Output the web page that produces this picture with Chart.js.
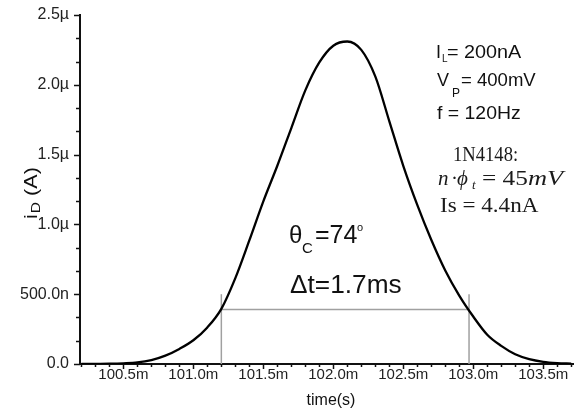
<!DOCTYPE html>
<html>
<head>
<meta charset="utf-8">
<script src="https://cdn.jsdelivr.net/npm/chart.js@4"></script>
<style>
  html, body { margin: 0; padding: 0; background: #fff; }
  canvas { display: block; }
</style>
</head>
<body>
<canvas id="diodeChart" width="574" height="412"></canvas>
<script>
// time in ms, current in µA
const timeMs = [100.2, 100.3, 100.4, 100.5, 100.6, 100.7, 100.8, 100.9, 101.0, 101.1,
                101.2, 101.3, 101.4, 101.5, 101.6, 101.7, 101.8, 101.9, 102.0, 102.1,
                102.2, 102.3, 102.4, 102.5, 102.6, 102.7, 102.8, 102.9, 103.0, 103.1,
                103.2, 103.3, 103.4, 103.5, 103.6, 103.7];
const currentUA = [0.000, 0.001, 0.002, 0.005, 0.011, 0.028, 0.060, 0.108, 0.170, 0.262,
                   0.395, 0.615, 0.885, 1.165, 1.420, 1.690, 1.960, 2.160, 2.280, 2.310,
                   2.250, 2.060, 1.740, 1.420, 1.140, 0.890, 0.670, 0.490, 0.340, 0.210,
                   0.130, 0.070, 0.035, 0.016, 0.007, 0.003];

const xTicks = [100.5, 101.0, 101.5, 102.0, 102.5, 103.0, 103.5];
const xTickLabels = ["100.5m", "101.0m", "101.5m", "102.0m", "102.5m", "103.0m", "103.5m"];
const yTicks = [0, 0.5, 1.0, 1.5, 2.0, 2.5];
const yTickLabels = ["0.0", "500.0n", "1.0µ", "1.5µ", "2.0µ", "2.5µ"];

// conduction window markers
const cutTimes = [101.2, 102.97];
const cutLevel = 0.39;
const markerTop = 0.5;

const SANS = '"Liberation Sans", Arial, sans-serif';
const SERIF = '"Liberation Serif", "Times New Roman", serif';

// draws a string, optionally stretched, returns the x where it ends
function txt(ctx, s, x, y, font, sx) {
  sx = sx || 1;
  ctx.save();
  ctx.font = font;
  const w = ctx.measureText(s).width * sx;
  ctx.translate(x, y);
  ctx.scale(sx, 1);
  ctx.fillText(s, 0, 0);
  ctx.restore();
  return x + w;
}

const extras = {
  id: "extras",
  afterDraw(chart) {
    const ctx = chart.ctx;
    const x = chart.scales.x, y = chart.scales.y, a = chart.chartArea;

    // minor / major tick marks
    ctx.save();
    ctx.strokeStyle = "#111";
    ctx.lineWidth = 1.5;
    ctx.beginPath();
    for (let k = 1002; k <= 1037; k++) {
      const px = Math.round(x.getPixelForValue(k / 10)) + 0.5;
      const len = k % 5 === 0 ? 5 : 3;
      ctx.moveTo(px, a.bottom);
      ctx.lineTo(px, a.bottom + len);
    }
    for (let k = 0; k <= 15; k++) {
      const py = Math.round(y.getPixelForValue(k * 0.5 / 3)) + 0.5;
      const len = k % 3 === 0 ? 6 : 4;
      ctx.moveTo(a.left - len, py);
      ctx.lineTo(a.left, py);
    }
    ctx.stroke();
    ctx.restore();

    ctx.save();
    ctx.fillStyle = "#111";
    ctx.textBaseline = "alphabetic";

    // axis titles
    ctx.textAlign = "center";
    txt(ctx, "time(s)", 331, 405, "16px " + SANS);
    ctx.textAlign = "left";
    ctx.save();
    ctx.translate(37, 219);
    ctx.rotate(-Math.PI / 2);
    let p = txt(ctx, "i", 0, 0, "18px " + SANS, 1.2);
    p = txt(ctx, "D", p + 1, 3, "13px " + SANS, 1.2);
    txt(ctx, " (A)", p, 0, "18px " + SANS, 1.2);
    ctx.restore();

    // circuit parameters
    txt(ctx, "I", 436, 58, "18px " + SANS);
    txt(ctx, "L", 442, 62, "10px " + SANS);
    txt(ctx, "= 200nA", 447, 58, "18px " + SANS, 1.1);
    txt(ctx, "V", 437, 86, "18px " + SANS);
    txt(ctx, "P", 452, 97, "12px " + SANS);
    txt(ctx, "= 400mV", 461, 86, "18px " + SANS, 1.03);
    txt(ctx, "f = 120Hz", 437, 119, "18px " + SANS, 1.08);

    // diode parameters
    ctx.fillStyle = "#1a1a1a";
    txt(ctx, "1N4148:", 453, 161, "20px " + SERIF, 0.93);
    txt(ctx, "n", 438, 185, "italic 21px " + SERIF);
    txt(ctx, "·", 451, 185, "21px " + SERIF);
    txt(ctx, "ϕ", 457, 185, "italic 21px " + SERIF);
    txt(ctx, "t", 472, 189, "italic 13px " + SERIF);
    p = txt(ctx, "= 45", 482, 185, "22px " + SERIF, 1.15);
    txt(ctx, "mV", p, 185, "italic 22px " + SERIF, 1.2);
    txt(ctx, "Is = 4.4nA", 440, 212, "21px " + SERIF, 1.1);

    // conduction angle
    ctx.fillStyle = "#111";
    txt(ctx, "θ", 289, 243, "24px " + SANS);
    txt(ctx, "C", 302, 253, "15px " + SANS);
    txt(ctx, "=74", 315, 243, "25px " + SANS);
    txt(ctx, "o", 357, 231, "11px " + SANS);
    txt(ctx, "Δt=1.7ms", 290, 293, "25px " + SANS, 1.05);
    ctx.restore();
  }
};

const grey = "#a0a0a0";

new Chart(document.getElementById("diodeChart"), {
  type: "line",
  data: {
    datasets: [
      {
        data: timeMs.map((t, i) => ({ x: t, y: currentUA[i] })),
        borderColor: "#000",
        borderWidth: 2.3,
        pointRadius: 0,
        cubicInterpolationMode: "monotone",
        fill: false
      },
      {
        data: cutTimes.map(t => ({ x: t, y: cutLevel })),
        borderColor: grey, borderWidth: 1.5, pointRadius: 0
      },
      {
        data: [{ x: cutTimes[0], y: 0 }, { x: cutTimes[0], y: markerTop }],
        borderColor: grey, borderWidth: 1.5, pointRadius: 0
      },
      {
        data: [{ x: cutTimes[1], y: 0 }, { x: cutTimes[1], y: markerTop }],
        borderColor: grey, borderWidth: 1.5, pointRadius: 0
      }
    ]
  },
  options: {
    responsive: false,
    animation: false,
    layout: { padding: { top: 15, right: 0, left: 0, bottom: 0 } },
    plugins: { legend: { display: false }, tooltip: { enabled: false } },
    scales: {
      x: {
        type: "linear",
        min: 100.19,
        max: 103.72,
        afterBuildTicks: s => { s.ticks = xTicks.map(v => ({ value: v })); },
        afterFit: s => { s.height = 48; },
        ticks: {
          callback: (v, i) => xTickLabels[i],
          font: { family: SANS, size: 15 },
          color: "#222",
          padding: 2,
          maxRotation: 0,
          autoSkip: false
        },
        grid: { display: false, tickLength: 0 },
        border: { display: true, color: "#111", width: 2 }
      },
      y: {
        min: 0,
        max: 2.5,
        afterBuildTicks: s => { s.ticks = yTicks.map(v => ({ value: v })); },
        afterFit: s => { s.width = 80; s.paddingTop = 0; s.paddingBottom = 0; },
        ticks: {
          callback: (v, i) => yTickLabels[i],
          font: { family: SANS, size: 16 },
          color: "#222",
          padding: 11
        },
        grid: { display: false, tickLength: 0 },
        border: { display: true, color: "#111", width: 2 }
      }
    }
  },
  plugins: [extras]
});
</script>
</body>
</html>
